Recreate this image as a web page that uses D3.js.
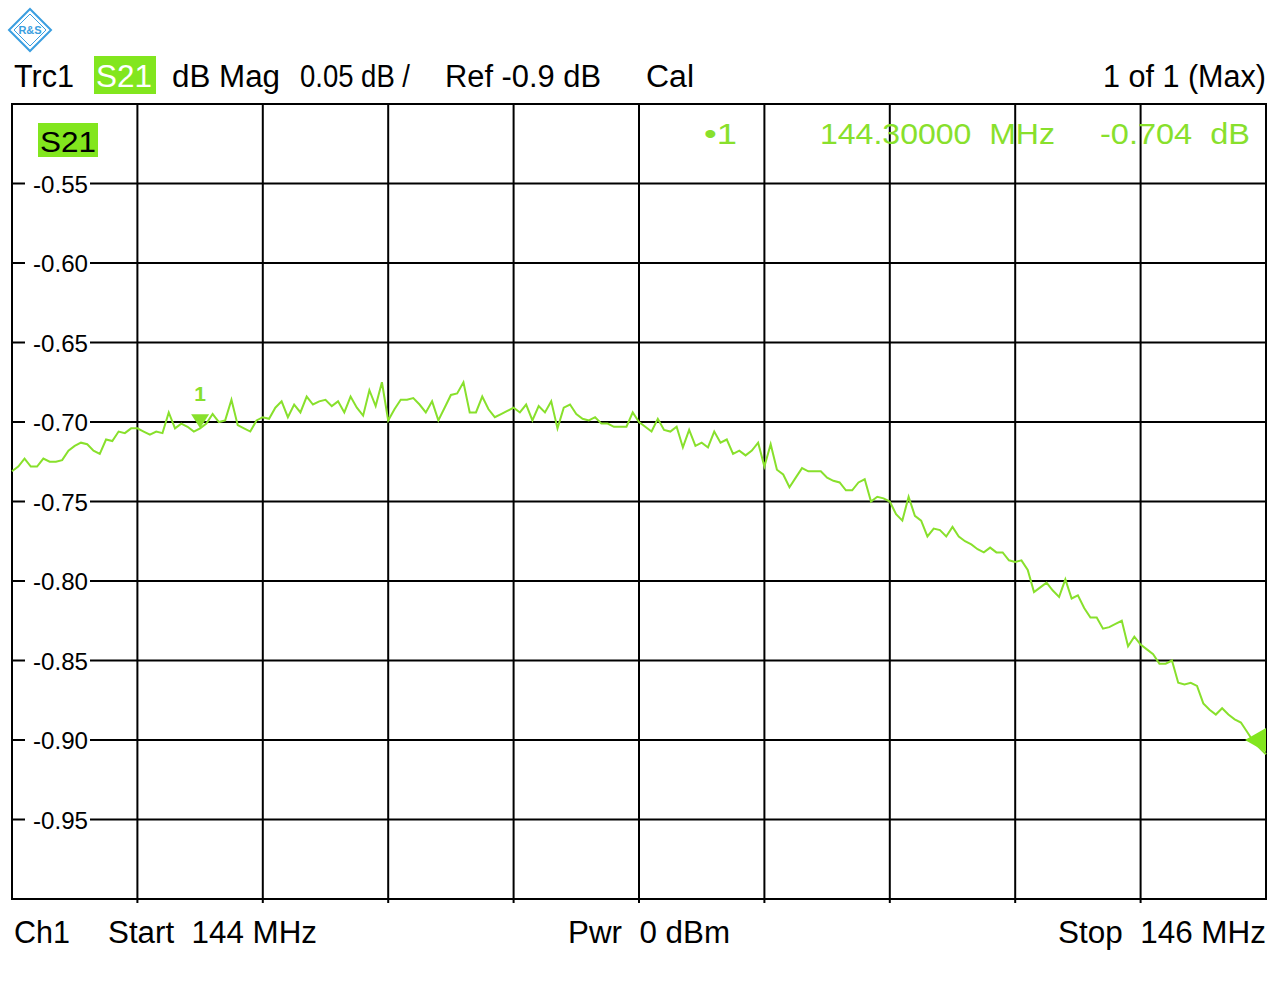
<!DOCTYPE html>
<html><head><meta charset="utf-8">
<script src="https://cdn.jsdelivr.net/npm/d3@7"></script>
<style>
html,body{margin:0;padding:0;background:#fff;}
svg{display:block;font-family:"Liberation Sans",Arial,sans-serif;}
</style></head>
<body>
<svg id="chart" width="1278" height="1004"></svg>
<script>
// ---- data ----
const startMHz = 144, stopMHz = 146, sweepPoints = 201;
const yTicks = [-0.55, -0.60, -0.65, -0.70, -0.75, -0.80, -0.85, -0.90, -0.95];
const yTickLabels = ["-0.55", "-0.60", "-0.65", "-0.70", "-0.75", "-0.80", "-0.85", "-0.90", "-0.95"];
const xGridMHz = [144.2, 144.4, 144.6, 144.8, 145.0, 145.2, 145.4, 145.6, 145.8];
const s21dB = [
-0.731,-0.728,-0.723,-0.728,-0.728,-0.723,-0.725,-0.725,-0.724,-0.718,
-0.715,-0.713,-0.714,-0.718,-0.720,-0.711,-0.712,-0.706,-0.707,-0.704,
-0.704,-0.706,-0.708,-0.706,-0.707,-0.694,-0.704,-0.701,-0.703,-0.706,
-0.704,-0.701,-0.695,-0.700,-0.699,-0.686,-0.702,-0.704,-0.706,-0.699,
-0.697,-0.698,-0.691,-0.687,-0.697,-0.689,-0.694,-0.684,-0.689,-0.687,
-0.686,-0.690,-0.687,-0.694,-0.684,-0.691,-0.696,-0.680,-0.690,-0.675,
-0.699,-0.692,-0.686,-0.686,-0.685,-0.689,-0.694,-0.687,-0.699,-0.691,
-0.683,-0.682,-0.675,-0.694,-0.694,-0.684,-0.692,-0.697,-0.695,-0.693,
-0.691,-0.694,-0.689,-0.699,-0.690,-0.694,-0.687,-0.704,-0.691,-0.689,
-0.695,-0.698,-0.699,-0.697,-0.701,-0.701,-0.703,-0.703,-0.703,-0.694,
-0.700,-0.703,-0.706,-0.698,-0.705,-0.706,-0.703,-0.716,-0.705,-0.715,
-0.713,-0.716,-0.706,-0.713,-0.711,-0.720,-0.718,-0.721,-0.718,-0.713,
-0.728,-0.714,-0.730,-0.733,-0.741,-0.735,-0.729,-0.731,-0.731,-0.731,
-0.735,-0.737,-0.738,-0.743,-0.743,-0.738,-0.736,-0.750,-0.747,-0.748,
-0.750,-0.758,-0.762,-0.747,-0.759,-0.762,-0.772,-0.767,-0.768,-0.772,
-0.766,-0.772,-0.775,-0.777,-0.780,-0.782,-0.779,-0.782,-0.782,-0.787,
-0.788,-0.787,-0.793,-0.807,-0.804,-0.801,-0.806,-0.810,-0.799,-0.811,
-0.809,-0.817,-0.823,-0.823,-0.830,-0.829,-0.827,-0.825,-0.841,-0.835,
-0.840,-0.843,-0.846,-0.852,-0.852,-0.850,-0.864,-0.865,-0.864,-0.866,
-0.877,-0.881,-0.884,-0.880,-0.884,-0.887,-0.889,-0.895,-0.901,-0.905,
-0.909
];
const markerMHz = 144.3, markerdB = -0.704;
const refdB = -0.9;

// ---- drawing ----
const svg = d3.select("#chart");
const L = 12, R = 1266, T = 104, B = 899;
const x = d3.scaleLinear().domain([startMHz, stopMHz]).range([L, R]);
const y = d3.scaleLinear().domain([-1.0, -0.5]).range([B, T]);
const freqs = d3.range(sweepPoints).map(i => startMHz + (stopMHz - startMHz) * i / (sweepPoints - 1));
const green = "#82e61e";
const traceCol = "#88e02c";

function txt(g, xx, yy, s, fs, w, opts = {}) {
  const t = g.append("text").attr("x", xx).attr("y", yy).attr("font-size", fs)
    .attr("xml:space", "preserve").attr("fill", opts.fill || "#000").text(s);
  if (w) t.attr("textLength", w).attr("lengthAdjust", "spacingAndGlyphs");
  if (opts.anchor) t.attr("text-anchor", opts.anchor);
  if (opts.weight) t.attr("font-weight", opts.weight);
  return t;
}

// logo
const logo = svg.append("g").attr("transform", "translate(30,30)");
logo.append("path").attr("d", "M0,-21 L21,0 L0,21 L-21,0 Z")
  .attr("fill", "none").attr("stroke", "#3a9ee0").attr("stroke-width", 2);
logo.append("path").attr("d", "M0,-16 L16,0 L0,16 L-16,0 Z")
  .attr("fill", "none").attr("stroke", "#3a9ee0").attr("stroke-width", 1);
logo.append("text").attr("x", 0).attr("y", 4).attr("text-anchor", "middle")
  .attr("font-size", 11).attr("font-weight", "bold").attr("fill", "#3a9ee0").text("R&S");

// header
const hy = 87, hfs = 31;
txt(svg, 14, hy, "Trc1", hfs, 60);
svg.append("rect").attr("x", 94).attr("y", 56).attr("width", 62).attr("height", 38).attr("fill", green);
txt(svg, 96, hy, "S21", hfs, 56, {fill: "#fff"});
txt(svg, 172, hy, "dB Mag", hfs, 108);
txt(svg, 300, hy, "0.05 dB /", hfs, 110);
txt(svg, 445, hy, "Ref -0.9 dB", hfs, 156);
txt(svg, 646, hy, "Cal", hfs, 48);
txt(svg, 1103, hy, "1 of 1 (Max)", hfs, 163);

// grid
const grid = svg.append("g");
grid.selectAll("line.v").data(xGridMHz).join("line")
  .attr("x1", d => x(d)).attr("x2", d => x(d)).attr("y1", T).attr("y2", B + 4)
  .attr("stroke", "#000").attr("stroke-width", 2);
grid.selectAll("line.h").data(yTicks).join("line")
  .attr("x1", L).attr("x2", R).attr("y1", d => y(d)).attr("y2", d => y(d))
  .attr("stroke", "#000").attr("stroke-width", 2);
svg.append("rect").attr("x", L).attr("y", T).attr("width", R - L).attr("height", B - T)
  .attr("fill", "none").attr("stroke", "#000").attr("stroke-width", 2);

// y labels with white background
const yl = svg.append("g");
yl.selectAll("rect").data(yTicks).join("rect")
  .attr("x", 25).attr("y", d => y(d) - 13).attr("width", 65).attr("height", 26).attr("fill", "#fff");
yl.selectAll("text").data(yTicks).join("text")
  .attr("x", 33).attr("y", d => y(d) + 9).attr("font-size", 24)
  .attr("textLength", 55).attr("lengthAdjust", "spacingAndGlyphs")
  .text((d, i) => yTickLabels[i]);

// S21 trace label
svg.append("rect").attr("x", 38).attr("y", 123).attr("width", 60).attr("height", 34).attr("fill", green);
txt(svg, 40, 152, "S21", 30, 56);

// marker readout
const my = 144;
txt(svg, 704, my, "•1", 30, 33, {fill: traceCol});
txt(svg, 820, my, "144.30000  MHz", 30, 235, {fill: traceCol});
txt(svg, 1100, my, "-0.704  dB", 30, 150, {fill: traceCol});

// trace
const line = d3.line().x((d, i) => x(freqs[i])).y(d => y(d));
svg.append("path").datum(s21dB).attr("d", line)
  .attr("fill", "none").attr("stroke", traceCol).attr("stroke-width", 2).attr("stroke-linejoin", "miter");

// marker 1 triangle
const mx = x(markerMHz), myy = y(markerdB);
svg.append("path").attr("d", `M${mx - 9},${myy - 14} L${mx + 9},${myy - 14} L${mx},${myy} Z`).attr("fill", traceCol);
svg.append("text").attr("x", mx).attr("y", myy - 27).attr("text-anchor", "middle")
  .attr("font-size", 21).attr("font-weight", "bold").attr("fill", traceCol).text("1");

// reference level marker (right)
const ry = y(refdB);
svg.append("path").attr("d", `M${R},${ry - 12} L${R},${ry + 12} L${R - 21},${ry} Z`).attr("fill", green);

// footer
const fy = 943;
txt(svg, 14, fy, "Ch1", hfs, 56);
txt(svg, 108, fy, "Start  144 MHz", hfs, 209);
txt(svg, 568, fy, "Pwr  0 dBm", hfs, 162);
txt(svg, 1058, fy, "Stop  146 MHz", hfs, 208);
</script>
</body></html>
